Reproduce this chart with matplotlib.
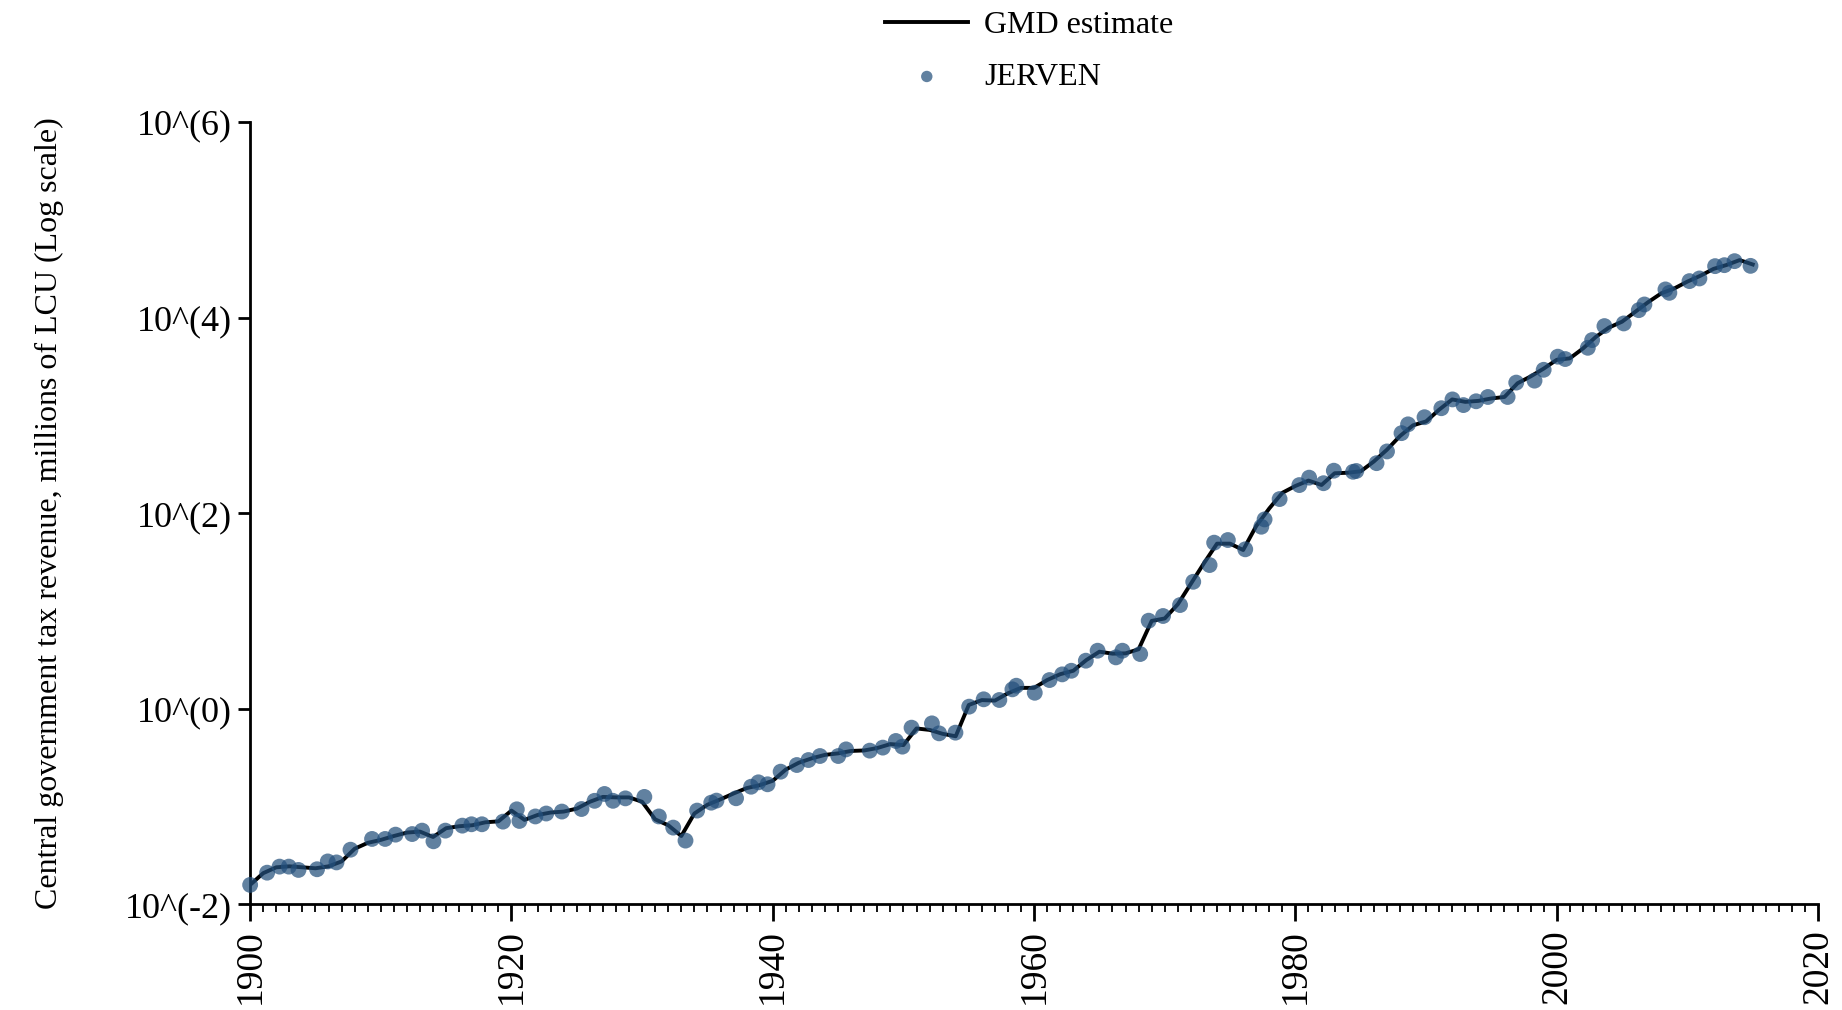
import numpy as np
import matplotlib
matplotlib.use("Agg")
import matplotlib.pyplot as plt
from matplotlib.ticker import FixedLocator, MultipleLocator

plt.rcParams['font.family'] = ['Liberation Serif', 'DejaVu Serif']

# GMD estimate, log10 of millions of LCU, one value per year
gmd_years = list(range(1900, 2016))
gmd_log = [
    -1.80, -1.68, -1.62, -1.61, -1.62, -1.63, -1.61, -1.56, -1.43, -1.37,   # 1900s
    -1.34, -1.30, -1.265, -1.255, -1.31, -1.22, -1.20, -1.19, -1.16, -1.15,  # 1910s
    -1.04, -1.135, -1.085, -1.06, -1.05, -1.02, -0.95, -0.90, -0.905, -0.905,  # 1920s
    -0.95, -1.13, -1.19, -1.30, -1.07, -0.98, -0.925, -0.865, -0.81, -0.78,  # 1930s
    -0.735, -0.62, -0.55, -0.505, -0.47, -0.455, -0.43, -0.425, -0.40, -0.36,  # 1940s
    -0.37, -0.20, -0.215, -0.255, -0.28, 0.04, 0.09, 0.085, 0.16, 0.215,  # 1950s
    0.215, 0.295, 0.355, 0.39, 0.50, 0.585, 0.565, 0.568, 0.61, 0.90,  # 1960s
    0.925, 1.07, 1.28, 1.49, 1.69, 1.69, 1.625, 1.87, 2.05, 2.21,  # 1970s
    2.28, 2.335, 2.29, 2.41, 2.415, 2.43, 2.53, 2.65, 2.79, 2.90,  # 1980s
    2.94, 3.06, 3.165, 3.14, 3.15, 3.175, 3.19, 3.33, 3.40, 3.48,  # 1990s
    3.57, 3.585, 3.685, 3.805, 3.90, 3.96, 4.06, 4.16, 4.25, 4.30,  # 2000s
    4.37, 4.43, 4.50, 4.54, 4.59, 4.545,  # 2010s
]

# JERVEN source points (x position as read, log10 value)
jerven_x = [
    1900.0, 1901.3, 1902.25, 1902.96, 1903.7, 1905.12, 1905.94, 1906.61, 1907.68, 1909.33,
    1910.33, 1911.13, 1912.4, 1913.16, 1914.03, 1914.94, 1916.24, 1916.94, 1917.74, 1919.35,
    1920.41, 1920.61, 1921.83, 1922.66, 1923.86, 1925.36, 1926.36, 1927.12, 1927.77, 1928.72,
    1930.17, 1931.28, 1932.38, 1933.32, 1934.21, 1935.29, 1935.69, 1937.19, 1938.34, 1938.9,
    1939.6, 1940.6, 1941.84, 1942.73, 1943.61, 1945.01, 1945.61, 1947.42, 1948.42, 1949.42,
    1949.92, 1950.62, 1952.18, 1952.73, 1953.98, 1955.03, 1956.14, 1957.34, 1958.34, 1958.64,
    1960.05, 1961.18, 1962.15, 1962.85, 1963.96, 1964.86, 1966.26, 1966.76, 1968.12, 1968.77,
    1969.87, 1971.17, 1972.18, 1973.43, 1973.78, 1974.83, 1976.16, 1977.39, 1977.64, 1978.79,
    1980.3, 1981.05, 1982.15, 1982.94, 1984.41, 1984.66, 1986.21, 1987.01, 1988.12, 1988.62,
    1989.88, 1991.17, 1992.02, 1992.86, 1993.83, 1994.73, 1996.24, 1996.9, 1998.3, 1999.0,
    2000.08, 2000.65, 2002.38, 2002.71, 2003.65, 2005.13, 2006.28, 2006.71, 2008.32, 2008.62,
    2010.16, 2010.92, 2012.12, 2012.83, 2013.61, 2014.83,
]
jerven_log = [
    -1.80, -1.675, -1.613, -1.613, -1.647, -1.64, -1.56, -1.57, -1.44, -1.33,
    -1.33, -1.286, -1.28, -1.245, -1.354, -1.245, -1.194, -1.18, -1.18, -1.153,
    -1.027, -1.146, -1.10, -1.07, -1.05, -1.024, -0.94, -0.87, -0.94, -0.915,
    -0.90, -1.10, -1.214, -1.347, -1.04, -0.959, -0.938, -0.914, -0.796, -0.751,
    -0.771, -0.642, -0.574, -0.523, -0.482, -0.482, -0.414, -0.427, -0.396, -0.328,
    -0.386, -0.192, -0.148, -0.25, -0.243, 0.023, 0.098, 0.091, 0.20, 0.237,
    0.165, 0.295, 0.353, 0.39, 0.493, 0.595, 0.527, 0.595, 0.561, 0.902,
    0.95, 1.062, 1.30, 1.471, 1.70, 1.727, 1.632, 1.863, 1.938, 2.146,
    2.289, 2.365, 2.308, 2.436, 2.425, 2.433, 2.513, 2.633, 2.82, 2.91,
    2.983, 3.075, 3.165, 3.107, 3.146, 3.19, 3.19, 3.337, 3.357, 3.468,
    3.602, 3.578, 3.693, 3.772, 3.915, 3.942, 4.078, 4.136, 4.29, 4.255,
    4.375, 4.402, 4.528, 4.538, 4.579, 4.531,
]

y_ticks = [1e-2, 1e0, 1e2, 1e4, 1e6]
y_tick_labels = ["10^(-2)", "10^(0)", "10^(2)", "10^(4)", "10^(6)"]
x_ticks = list(range(1900, 2021, 20))

fig = plt.figure(figsize=(18.42, 10.10), dpi=100)
ax = fig.add_axes([0.1358, 0.1045, 0.8512, 0.7745])

ax.plot(gmd_years, 10 ** np.array(gmd_log), color="black", lw=2.8,
        label="GMD estimate", zorder=2)
ax.scatter(jerven_x, 10 ** np.array(jerven_log), s=130, color="#24507c",
           alpha=0.72, edgecolors="none", label="JERVEN", zorder=3, clip_on=False)

ax.set_yscale("log")
ax.set_ylim(1e-2, 1e6)
ax.set_xlim(1900, 2020)
ax.yaxis.set_major_locator(FixedLocator(y_ticks))
ax.yaxis.set_minor_locator(FixedLocator([]))
ax.set_yticklabels(y_tick_labels)
ax.set_xticks(x_ticks)
ax.xaxis.set_minor_locator(MultipleLocator(1))

for s in ["top", "right"]:
    ax.spines[s].set_visible(False)
for s in ["left", "bottom"]:
    ax.spines[s].set_linewidth(2.0)

ax.tick_params(axis="y", which="major", length=9, width=2, labelsize=26, pad=4)
ax.tick_params(axis="x", which="major", length=12, width=2, labelsize=27,
               labelrotation=90, pad=6)
ax.tick_params(axis="x", which="minor", length=6, width=1.3)

ax.set_ylabel("Central government tax revenue, millions of LCU (Log scale)",
              fontsize=23, labelpad=44)

ax.legend(loc="lower center", bbox_to_anchor=(0.497, 1.0), frameon=False,
          fontsize=23, ncol=1, handlelength=2.6, labelspacing=0.7,
          handletextpad=0.5, borderaxespad=0.55, markerscale=0.72)

fig.savefig("out.png", dpi=100)
